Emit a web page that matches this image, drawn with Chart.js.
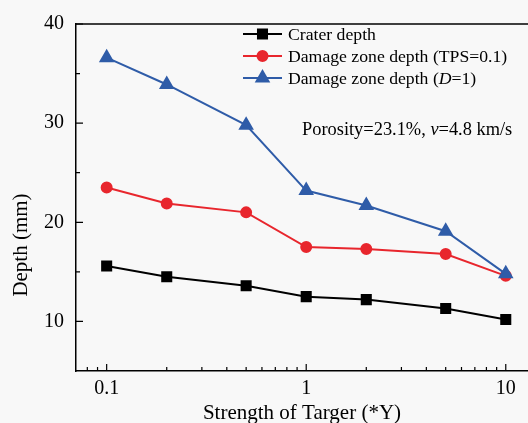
<!DOCTYPE html>
<html>
<head>
<meta charset="utf-8">
<script src="https://cdn.jsdelivr.net/npm/chart.js@4.4.1/dist/chart.umd.min.js"></script>
<style>
  html, body { margin: 0; padding: 0; background: #f8f8f8; overflow: hidden; }
  #wrap { width: 540px; height: 423px; }
</style>
</head>
<body>
<div id="wrap"><canvas id="chart" width="540" height="423"></canvas></div>
<script>
// values
var strength = [0.1, 0.2, 0.5, 1, 2, 5, 10]
var craterDepth = [15.6, 14.5, 13.6, 12.5, 12.2, 11.3, 10.2]
var damageTPS = [23.5, 21.9, 21.0, 17.5, 17.3, 16.8, 14.6]
var damageD1 = [36.6, 33.9, 29.8, 23.2, 21.7, 19.1, 14.8]

var xTicks = [0.1, 1, 10]
var xMinor = [0.08, 0.09, 0.2, 0.3, 0.4, 0.5, 0.6, 0.7, 0.8, 0.9, 2, 3, 4, 5, 6, 7, 8, 9]
var yTicks = [10, 20, 30, 40]
var yMinor = [15, 25, 35]

var legendLabels = [
  [['Crater depth', false]],
  [['Damage zone depth (TPS=0.1)', false]],
  [['Damage zone depth (', false], ['D', true], ['=1)', false]]
]
var note = [['Porosity=23.1%, ', false], ['v', true], ['=4.8 km/s', false]]

var serif = '"Liberation Serif", "Times New Roman", serif'

function pts(ys) {
  return ys.map(function (y, i) { return { x: strength[i], y: y } })
}

function richText(ctx, parts, x, y, size) {
  parts.forEach(function (p) {
    ctx.font = (p[1] ? 'italic ' : '') + size + 'px ' + serif
    ctx.fillText(p[0], x, y)
    x += ctx.measureText(p[0]).width
  })
}

var extras = {
  id: 'extras',
  beforeDraw: function (chart) {
    var ctx = chart.ctx
    ctx.save()
    ctx.fillStyle = '#f8f8f8'
    ctx.fillRect(0, 0, chart.width, chart.height)
    ctx.restore()
  },
  afterDraw: function (chart) {
    var ctx = chart.ctx
    var a = chart.chartArea
    var xs = chart.scales.x, ys = chart.scales.y
    ctx.save()
    ctx.strokeStyle = '#000'
    ctx.lineWidth = 1.5
    // top frame line
    ctx.beginPath()
    ctx.moveTo(a.left, a.top)
    ctx.lineTo(chart.width, a.top)
    ctx.stroke()
    // inward ticks
    ctx.lineWidth = 1.2
    ctx.beginPath()
    xTicks.forEach(function (v) { var px = xs.getPixelForValue(v); ctx.moveTo(px, a.bottom); ctx.lineTo(px, a.bottom - 7) })
    xMinor.forEach(function (v) { var px = xs.getPixelForValue(v); ctx.moveTo(px, a.bottom); ctx.lineTo(px, a.bottom - 4) })
    yTicks.forEach(function (v) { var py = ys.getPixelForValue(v); ctx.moveTo(a.left, py); ctx.lineTo(a.left + 7, py) })
    yMinor.forEach(function (v) { var py = ys.getPixelForValue(v); ctx.moveTo(a.left, py); ctx.lineTo(a.left + 4, py) })
    ctx.stroke()

    // axis titles
    ctx.fillStyle = '#000'
    ctx.textAlign = 'center'
    ctx.textBaseline = 'middle'
    ctx.font = '21px ' + serif
    ctx.fillText('Strength of Targer (*Y)', 302, 413)
    ctx.save()
    ctx.translate(21, 245)
    ctx.rotate(-Math.PI / 2)
    ctx.fillText('Depth (mm)', 0, 0)
    ctx.restore()

    // legend
    ctx.textAlign = 'left'
    chart.data.datasets.forEach(function (ds, i) {
      var ly = 34 + i * 22
      ctx.strokeStyle = ds.borderColor
      ctx.lineWidth = ds.borderWidth
      ctx.beginPath()
      ctx.moveTo(243, ly)
      ctx.lineTo(282, ly)
      ctx.stroke()
      Chart.helpers.drawPoint(ctx, {
        pointStyle: ds.pointStyle, radius: ds.pointRadius, rotation: 0, borderWidth: 1
      }, 262.5, ly)
      ctx.fillStyle = ds.backgroundColor
      ctx.strokeStyle = ds.borderColor
      ctx.fill()
      ctx.fillStyle = '#000'
      richText(ctx, legendLabels[i], 288, ly + 1, 17.7)
    })

    // annotation
    ctx.fillStyle = '#000'
    richText(ctx, note, 302, 130, 18.4)
    ctx.restore()
  }
}

new Chart(document.getElementById('chart'), {
  type: 'line',
  data: {
    datasets: [
      { label: 'Crater depth', data: pts(craterDepth), borderColor: '#000000', backgroundColor: '#000000',
        pointStyle: 'rect', pointRadius: 6.4, borderWidth: 2, order: 2 },
      { label: 'Damage zone depth (TPS=0.1)', data: pts(damageTPS), borderColor: '#e8262d', backgroundColor: '#e8262d',
        pointStyle: 'circle', pointRadius: 5, borderWidth: 2, order: 1 },
      { label: 'Damage zone depth (D=1)', data: pts(damageD1), borderColor: '#2f5ca8', backgroundColor: '#2f5ca8',
        pointStyle: 'triangle', pointRadius: 7, borderWidth: 2, order: 0 }
    ]
  },
  options: {
    responsive: false,
    animation: false,
    layout: { padding: { top: 20, left: 0, right: 0, bottom: 0 } },
    plugins: { legend: { display: false }, tooltip: { enabled: false } },
    elements: { line: { tension: 0 }, point: { borderWidth: 1 } },
    scales: {
      x: {
        type: 'logarithmic',
        min: 0.0702,
        max: 13.38,
        grid: { display: false, drawTicks: false },
        border: { display: true, color: '#000', width: 1.5 },
        ticks: {
          color: '#000', font: { family: serif, size: 20 }, padding: 6,
          autoSkip: false, maxRotation: 0,
          callback: function (v) { return String(v) }
        },
        afterBuildTicks: function (s) { s.ticks = xTicks.map(function (v) { return { value: v } }) },
        afterFit: function (s) { s.height = 52 }
      },
      y: {
        min: 5,
        max: 40,
        grid: { display: false, drawTicks: false },
        border: { display: true, color: '#000', width: 1.5 },
        ticks: { color: '#000', font: { family: serif, size: 20 }, padding: 12 },
        afterBuildTicks: function (s) { s.ticks = yTicks.map(function (v) { return { value: v } }) },
        afterFit: function (s) { s.width = 76 }
      }
    }
  },
  plugins: [extras]
})
</script>
</body>
</html>
